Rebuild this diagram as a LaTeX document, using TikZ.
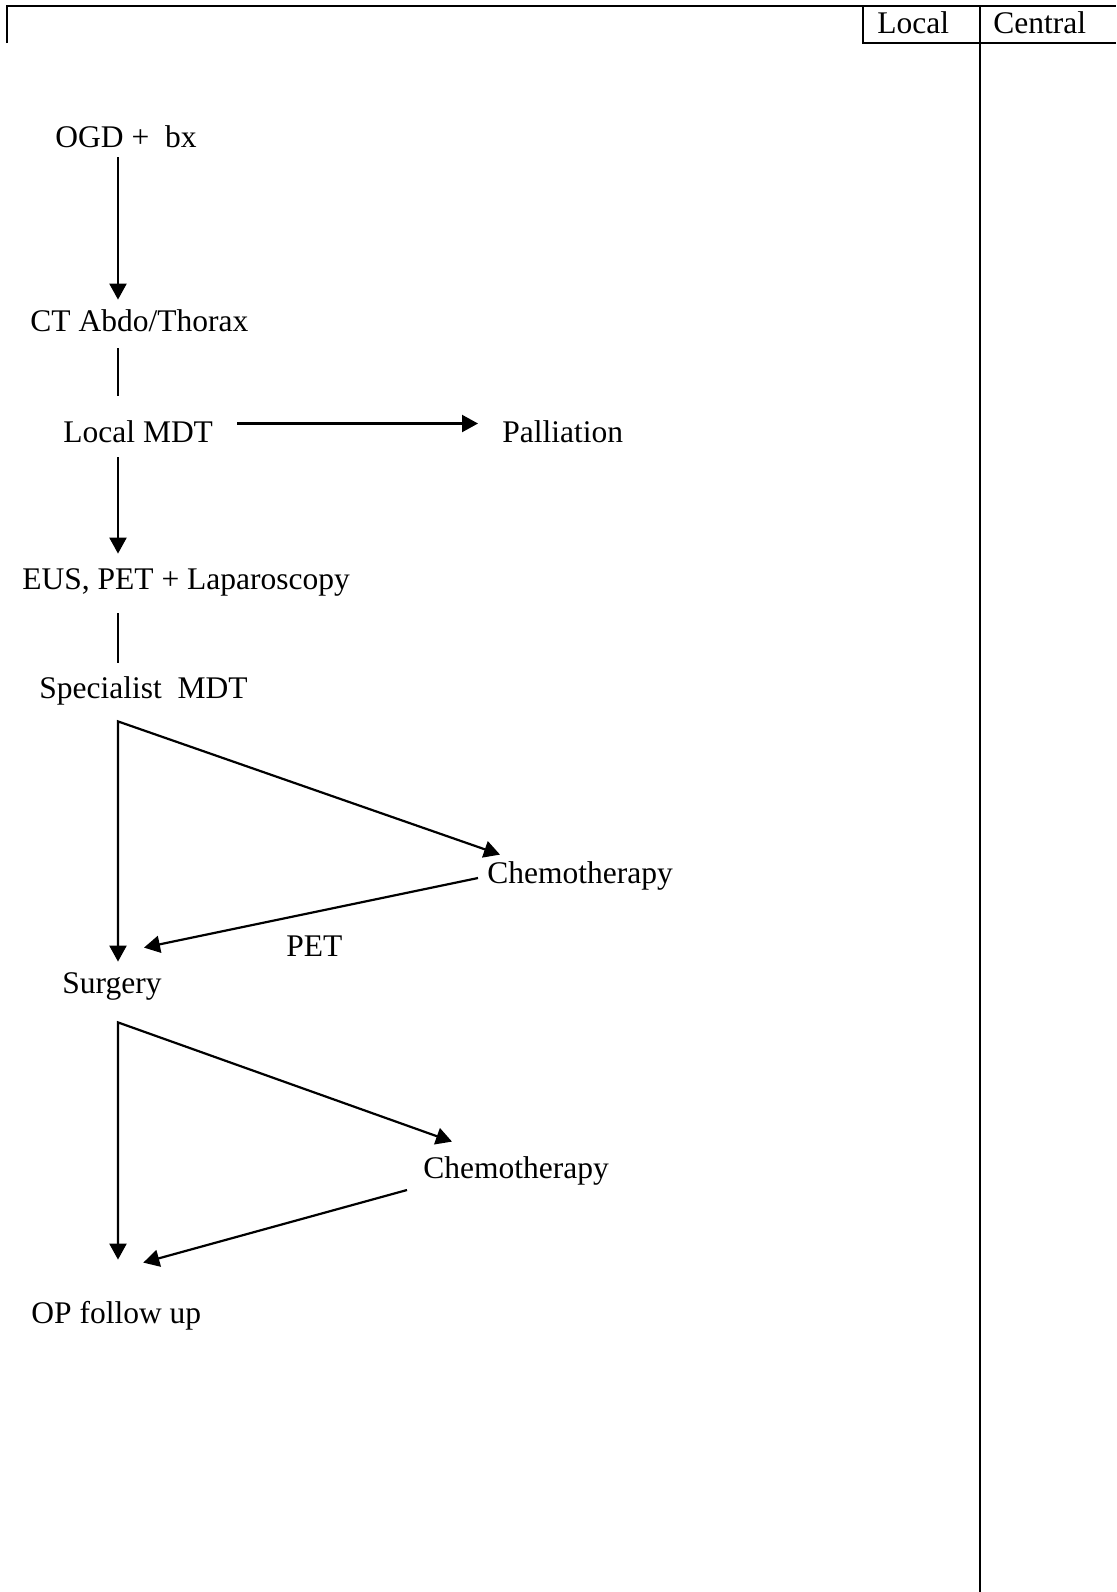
\documentclass[tikz,border=0pt]{standalone}
\usepackage{fontspec}
\setmainfont{Liberation Serif}
\usetikzlibrary{arrows.meta}

\begin{document}
\begin{tikzpicture}[x=0.5pt, y=-0.5pt]
% Flow style
\tikzset{
    txt/.style={anchor=base west, inner sep=0, text height=11pt, text depth=3.5pt,
        font=\fontsize{15.75}{19}\selectfont},
    arr/.style={line width=1.1pt, -{Triangle[length=8pt, width=8.5pt]}},
    arrs/.style={line width=1.1pt, line join=miter,
        {Triangle[length=8pt, width=8.5pt]}-{Triangle[length=8pt, width=8.5pt]}},
    link/.style={line width=0.7pt},
    frame/.style={line width=1.1pt}
}
\useasboundingbox (0,0) rectangle (1116,1592);

% Frame
\draw[frame] (7,43) |- (1116,6);
\draw[frame] (863,6) |- (1116,43);
\draw[frame] (980,6) -- (980,1592);

% Nodes
\node[txt] (HL) at (877,33) {Local};
\node[txt] (HC) at (993,33) {Central};

\node[txt] (OGD) at (55,147) {OGD + \ bx};
\node[txt] (CT) at (30,331) {CT Abdo/Thorax};
\node[txt] (LMDT) at (63,442) {Local MDT};
\node[txt] (PAL) at (502,442) {Palliation};
\node[txt] (EUS) at (22,589) {EUS, PET + Laparoscopy};
\node[txt] (SMDT) at (39,698) {Specialist \ MDT};
\node[txt] (CH1) at (487,883) {Chemotherapy};
\node[txt] (PET) at (286,956) {PET};
\node[txt] (SURG) at (62,993) {Surgery};
\node[txt] (CH2) at (423,1178) {Chemotherapy};
\node[txt] (OPF) at (31,1323) {OP follow up};

\coordinate (COL) at (118,0);
\coordinate (SPL1) at ([shift={(0,16)}]SMDT.south -| COL);
\coordinate (SPL2) at ([shift={(0,22)}]SURG.south -| COL);

% Connections
\draw[arr] ([shift={(0,3)}]OGD.south -| COL) -- ([shift={(0,-9)}]CT.north -| COL);
\draw[link] ([shift={(0,10)}]CT.south -| COL) -- ([shift={(0,-24)}]LMDT.north -| COL);
\draw[arr] ([shift={(24,-11)}]LMDT.east) -- ([shift={(-24,-11)}]PAL.west);
\draw[arr] ([shift={(0,8)}]LMDT.south -| COL) -- ([shift={(0,-13)}]EUS.north -| COL);
\draw[link] ([shift={(0,17)}]EUS.south -| COL) -- ([shift={(0,-13)}]SMDT.north -| COL);

\draw[arrs] ([shift={(13,-6)}]CH1.north west) -- (SPL1) -- ([shift={(0,-9)}]SURG.north -| COL);
\draw[arr] ([shift={(-9,2.5)}]CH1.west) -- ([shift={(-18,-23)}]SURG.north east);

\draw[arrs] ([shift={(29,-14)}]CH2.north west) -- (SPL2) -- ([shift={(0,-41)}]OPF.north -| COL);
\draw[arr] ([shift={(-16,19.5)}]CH2.west) -- ([shift={(27,-38)}]OPF.north);
\end{tikzpicture}
\end{document}
